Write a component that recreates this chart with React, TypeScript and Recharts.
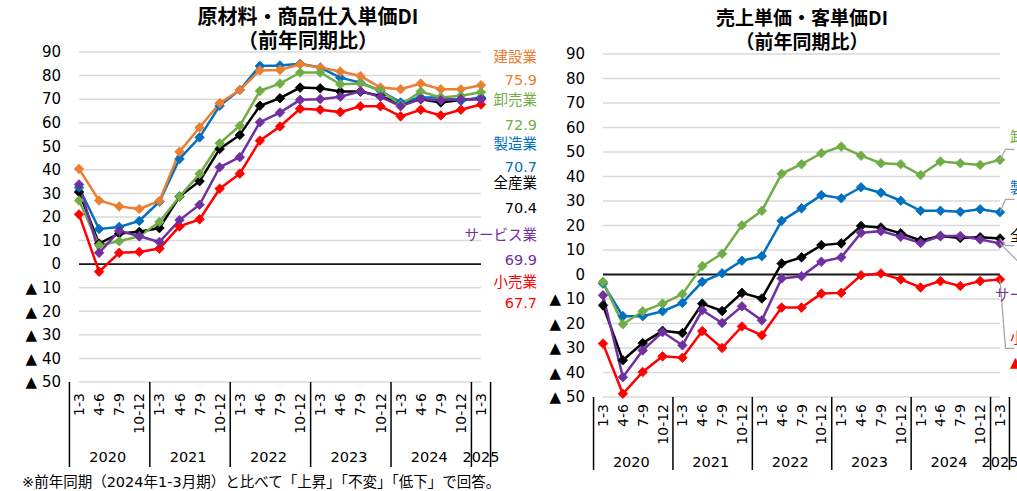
import React from "react";
import { LineChart, Line, XAxis, YAxis, CartesianGrid, ReferenceLine, LabelList } from "recharts";

// categories
const quarters = [
  "1-3", "4-6", "7-9", "10-12",
  "1-3", "4-6", "7-9", "10-12",
  "1-3", "4-6", "7-9", "10-12",
  "1-3", "4-6", "7-9", "10-12",
  "1-3", "4-6", "7-9", "10-12",
  "1-3",
];
const years = ["2020", "2021", "2022", "2023", "2024", "2025"];
const yTicks = [-50, -40, -30, -20, -10, 0, 10, 20, 30, 40, 50, 60, 70, 80, 90];

// 原材料・商品仕入単価DI
const costAll = [30.6, 8.7, 13, 13.7, 15.3, 28.7, 35.2, 48.9, 54.8, 67.2, 70.4, 74.9, 74.6, 73.2, 73.2, 71.4, 67.9, 70, 68.6, 69.6, 70.4];
const costMfg = [32.5, 14.9, 15.8, 18.3, 26.5, 44.6, 53.8, 67.2, 73.9, 84.1, 84.3, 85, 83.4, 79.1, 77, 73.5, 68.6, 70.7, 70.7, 69.3, 70.7];
const costBuild = [40.4, 27, 24.5, 23.4, 26.8, 47.7, 58, 68.3, 73.9, 82.2, 82.4, 84.8, 83.4, 81.7, 79.8, 74.9, 74.2, 76.6, 74.2, 74.2, 75.9];
const costWhole = [27, 8, 9.7, 11.8, 17.9, 28.7, 38.3, 51.3, 58.7, 73.5, 76.6, 81.3, 81.3, 76.3, 76.6, 73.8, 67.6, 73.2, 70.7, 71.4, 72.9];
const costRetail = [21.1, -3.2, 4.8, 5.2, 6.6, 16, 19, 32, 38.4, 52.4, 58.4, 65.9, 65.5, 64.5, 67, 67, 62.7, 65.5, 63.1, 65.5, 67.7];
const costService = [33.8, 4.8, 14.1, 11.8, 9.4, 18.7, 25.2, 41.1, 45.4, 60.2, 64.3, 69.7, 70, 71, 73.3, 71, 67, 70, 69.5, 70, 69.9];

// 売上単価・客単価DI
const priceAll = [-12.6, -35, -28, -23, -23.9, -11.9, -14.9, -7.5, -9.8, 4.5, 7, 12, 12.7, 19.8, 19.2, 16.8, 13.9, 15.7, 14.9, 15.2, 14.7];
const priceMfg = [-3.7, -17, -17, -15, -11.6, -3, 0.5, 5.6, 7.5, 21.9, 27, 32.4, 31.1, 35.6, 33.4, 30.1, 26, 26, 25.6, 26.6, 25.4];
const priceWhole = [-3, -20.3, -15, -11.9, -8, 3.4, 8.5, 20.1, 26, 41.1, 45, 49.5, 52.2, 48.5, 45.4, 45, 40.6, 46.1, 45.4, 44.7, 46.8];
const priceService = [-8.5, -41.9, -31, -23.5, -28.9, -14.6, -19.8, -13, -18.7, -1.6, -0.7, 5.2, 7, 17, 17.7, 15.4, 12.9, 15.7, 15.7, 14.3, 12.7];
const priceRetail = [-28.2, -48.7, -39.8, -33.4, -34, -23.1, -30, -21.2, -24.8, -13.5, -13.5, -7.8, -7.5, -0.3, 0.4, -2, -5.3, -2.7, -4.7, -2.7, -2];

const C = {
  all: "#000000",
  mfg: "#0070C0",
  build: "#ED7D31",
  whole: "#70AD47",
  retail: "#FF0000",
  service: "#7030A0",
};

const FONT = "'DejaVu Sans', 'Noto Sans CJK JP', sans-serif";
const JP = "'Noto Sans CJK JP', sans-serif";

const costRows = quarters.map((q, i) => ({
  key: `c${i}`,
  all: costAll[i],
  mfg: costMfg[i],
  build: costBuild[i],
  whole: costWhole[i],
  retail: costRetail[i],
  service: costService[i],
}));

const priceRows = quarters.map((q, i) => ({
  key: `p${i}`,
  all: priceAll[i],
  mfg: priceMfg[i],
  whole: priceWhole[i],
  service: priceService[i],
  retail: priceRetail[i],
}));

const fmtY = (v: number) => (v < 0 ? `▲ ${-v}` : `${v}`);

const diamond = (color: string) => (props: any) => {
  const { cx, cy, index } = props;
  if (cx == null || cy == null) return <g key={`n${index}`} />;
  const r = 4.8;
  return (
    <polygon
      key={`d${index}`}
      points={`${cx},${cy - r} ${cx + r},${cy} ${cx},${cy + r} ${cx - r},${cy}`}
      fill={color}
      stroke={color}
      strokeWidth={0.8}
    />
  );
};

function quarterTick(band: number, top: number, labelGap: number, sepEnd: number, yearY: number) {
  return (props: any) => {
    const { x } = props;
    const i = props.index ?? props.payload?.index ?? 0;
    const last = quarters.length - 1;
    const parts: React.ReactNode[] = [];
    parts.push(
      <text
        key="q"
        transform={`translate(${x},${top + labelGap}) rotate(-90)`}
        textAnchor="end"
        dominantBaseline="central"
        fontSize={14}
        fontFamily={FONT}
        fill="#000"
      >
        {quarters[i]}
      </text>
    );
    if (i % 4 === 0) {
      const sx = x - band / 2;
      parts.push(<line key="s" x1={sx} x2={sx} y1={top} y2={sepEnd} stroke="#000" strokeWidth={1.5} />);
      const cx = i === last ? x : x + band * 1.5;
      parts.push(
        <text key="y" x={cx} y={yearY} textAnchor="middle" dominantBaseline="central" fontSize={14.5} fontFamily={FONT} fill="#000">
          {years[i / 4]}
        </text>
      );
    }
    if (i === last) {
      const ex = x + band / 2;
      parts.push(<line key="e" x1={ex} x2={ex} y1={top} y2={sepEnd} stroke="#000" strokeWidth={1.5} />);
    }
    return <g>{parts}</g>;
  };
}

type Leader = { name: string; color: string; bend?: number; toX?: number; toY?: number; tx: number; ty: number; extra?: string; ey?: number };

const leaderLabel = (cfg: Leader) => (props: any) => {
  const { x, y, index } = props;
  if (index !== quarters.length - 1 || x == null) return null;
  const pts =
    cfg.bend != null
      ? `${x},${y} ${x + 5.5},${cfg.bend} ${x + 14.5},${cfg.bend}`
      : `${x},${y} ${x + (cfg.toX ?? 0)},${y + (cfg.toY ?? 0)}`;
  return (
    <g>
      <polyline points={pts} fill="none" stroke="#A6A6A6" strokeWidth={1.3} />
      <text x={cfg.tx} y={cfg.ty} dominantBaseline="central" fontSize={14.5} fontFamily={FONT} fill={cfg.color}>
        {cfg.name}
      </text>
      {cfg.extra ? (
        <text x={cfg.tx} y={cfg.ey} dominantBaseline="central" fontSize={14.5} fontFamily={FONT} fill={cfg.color}>
          {cfg.extra}
        </text>
      ) : null}
    </g>
  );
};

const costSideLabels = [
  { name: "建設業", value: costBuild[20], color: C.build, ny: 57, vy: 80 },
  { name: "卸売業", value: costWhole[20], color: C.whole, ny: 100, vy: 125 },
  { name: "製造業", value: costMfg[20], color: C.mfg, ny: 144, vy: 167 },
  { name: "全産業", value: costAll[20], color: C.all, ny: 183, vy: 208 },
  { name: "サービス業", value: costService[20], color: C.service, ny: 235, vy: 260 },
  { name: "小売業", value: costRetail[20], color: C.retail, ny: 282, vy: 303 },
];

const abs = (left: number, top: number): React.CSSProperties => ({ position: "absolute", left, top });

const titleStyle = (cx: number, cy: number, size: number): React.CSSProperties => ({
  position: "absolute",
  left: cx - 150,
  top: cy - 10,
  width: 300,
  textAlign: "center",
  fontFamily: JP,
  fontWeight: 700,
  fontSize: size,
  lineHeight: "20px",
  color: "#000",
  whiteSpace: "nowrap",
});

export default function App() {
  const axisTick = { fontSize: 15, fill: "#000", fontFamily: FONT };
  return (
    <div style={{ position: "absolute", left: 0, top: 0, width: 1017, height: 491, overflow: "hidden", background: "#fff", fontFamily: FONT }}>
      {/* left: 原材料・商品仕入単価DI */}
      <div style={abs(0, 0)}>
        <LineChart width={540} height={491} data={costRows} margin={{ top: 52, right: 59, bottom: 0, left: 0 }}>
          <CartesianGrid vertical={false} stroke="#D9D9D9" strokeWidth={1.5} />
          <XAxis
            dataKey="key"
            interval={0}
            height={109}
            axisLine={false}
            tickLine={false}
            tick={quarterTick(402 / 21, 382, 11, 467, 457)}
          />
          <YAxis
            width={79}
            domain={[-50, 90]}
            ticks={yTicks}
            interval={0}
            axisLine={false}
            tickLine={false}
            tickSize={0}
            tickMargin={18}
            tick={axisTick}
            tickFormatter={fmtY}
          />
          <ReferenceLine y={0} stroke="#1a1a1a" strokeWidth={1.8} />
          <Line dataKey="all" stroke={C.all} strokeWidth={2.5} dot={diamond(C.all)} isAnimationActive={false} />
          <Line dataKey="mfg" stroke={C.mfg} strokeWidth={2.5} dot={diamond(C.mfg)} isAnimationActive={false} />
          <Line dataKey="build" stroke={C.build} strokeWidth={2.5} dot={diamond(C.build)} isAnimationActive={false} />
          <Line dataKey="whole" stroke={C.whole} strokeWidth={2.5} dot={diamond(C.whole)} isAnimationActive={false} />
          <Line dataKey="retail" stroke={C.retail} strokeWidth={2.5} dot={diamond(C.retail)} isAnimationActive={false} />
          <Line dataKey="service" stroke={C.service} strokeWidth={2.5} dot={diamond(C.service)} isAnimationActive={false} />
        </LineChart>
      </div>

      {/* right: 売上単価・客単価DI */}
      <div style={abs(520, 0)}>
        <LineChart width={497} height={491} data={priceRows} margin={{ top: 54, right: 17, bottom: 0, left: 0 }}>
          <CartesianGrid vertical={false} stroke="#D9D9D9" strokeWidth={1.5} />
          <XAxis
            dataKey="key"
            interval={0}
            height={94}
            axisLine={false}
            tickLine={false}
            tick={quarterTick(397 / 21, 397, 7, 470, 462)}
          />
          <YAxis
            width={83}
            domain={[-50, 90]}
            ticks={yTicks}
            interval={0}
            axisLine={false}
            tickLine={false}
            tickSize={0}
            tickMargin={18}
            tick={axisTick}
            tickFormatter={fmtY}
          />
          <ReferenceLine y={0} stroke="#1a1a1a" strokeWidth={1.8} />
          <Line dataKey="all" stroke={C.all} strokeWidth={2.5} dot={diamond(C.all)} isAnimationActive={false}>
            <LabelList content={leaderLabel({ name: "全産業", color: C.all, bend: 245.7, tx: 490, ty: 236 })} />
          </Line>
          <Line dataKey="mfg" stroke={C.mfg} strokeWidth={2.5} dot={diamond(C.mfg)} isAnimationActive={false}>
            <LabelList content={leaderLabel({ name: "製造業", color: C.mfg, bend: 199.3, tx: 490, ty: 188 })} />
          </Line>
          <Line dataKey="whole" stroke={C.whole} strokeWidth={2.5} dot={diamond(C.whole)} isAnimationActive={false}>
            <LabelList content={leaderLabel({ name: "卸売業", color: C.whole, bend: 149.3, tx: 490, ty: 137 })} />
          </Line>
          <Line dataKey="retail" stroke={C.retail} strokeWidth={2.5} dot={diamond(C.retail)} isAnimationActive={false}>
            <LabelList
              content={leaderLabel({
                name: "小売業",
                color: C.retail,
                bend: 348.3,
                tx: 490,
                ty: 338,
                extra: `▲ ${(-priceRetail[20]).toFixed(1)}`,
                ey: 362,
              })}
            />
          </Line>
          <Line dataKey="service" stroke={C.service} strokeWidth={2.5} dot={diamond(C.service)} isAnimationActive={false}>
            <LabelList content={leaderLabel({ name: "サービス業", color: C.service, toX: 34, toY: 34, tx: 475, ty: 295 })} />
          </Line>
        </LineChart>
      </div>

      {/* side labels of the left chart */}
      {costSideLabels.map((l) => (
        <React.Fragment key={l.name}>
          <div style={{ position: "absolute", right: 1017 - 537, top: l.ny - 10, lineHeight: "20px", fontSize: 14.5, color: l.color, whiteSpace: "nowrap" }}>
            {l.name}
          </div>
          <div style={{ position: "absolute", right: 1017 - 537, top: l.vy - 10, lineHeight: "20px", fontSize: 14.5, color: l.color, whiteSpace: "nowrap" }}>
            {l.value.toFixed(1)}
          </div>
        </React.Fragment>
      ))}

      {/* titles */}
      <div style={titleStyle(308, 16, 20)}>原材料・商品仕入単価DI</div>
      <div style={titleStyle(308, 40, 20)}>（前年同期比）</div>
      <div style={titleStyle(802, 17, 19)}>売上単価・客単価DI</div>
      <div style={titleStyle(802, 41, 19)}>（前年同期比）</div>

      <div style={{ position: "absolute", left: 22, top: 472, lineHeight: "20px", fontSize: 14.5, color: "#000", whiteSpace: "nowrap" }}>
        ※前年同期（2024年1-3月期）と比べて「上昇」「不変」「低下」で回答。
      </div>
    </div>
  );
}
